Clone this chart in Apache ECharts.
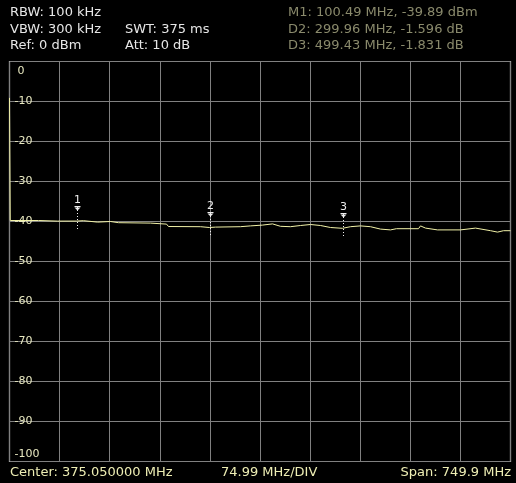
<!DOCTYPE html>
<html>
<head>
<meta charset="utf-8">
<script src="https://cdn.jsdelivr.net/npm/echarts@6/dist/echarts.min.js"></script>
<style>
html,body{margin:0;padding:0;background:#000;}
#c{width:516px;height:483px;}
</style>
</head>
<body>
<div id="c"></div>
<script>
// Trace: frequency (MHz) and level (dBm)
const freqs = [0.1, 1.2, 43.4, 45, 72, 73.4, 100.4, 110.8, 112.4, 131.8, 133.3, 151.3, 152.8, 163.3, 164.8, 211.1, 212.6, 235.1, 238.1, 286, 299.4, 308.4, 345.8, 360.8, 378.8, 393.8, 405.7, 420.7, 435.7, 450.6, 465.6, 480.6, 498.5, 510.5, 525.5, 540.4, 555.4, 570.4, 579.3, 612.3, 615.3, 622.8, 640.7, 675.2, 697.6, 720.1, 730.6, 739.6, 750];
const levels = [-9.1, -39.75, -39.75, -39.9, -39.9, -39.65, -39.89, -39.8, -40.15, -40.15, -40.0, -40.0, -40.25, -40.3, -40.4, -40.4, -40.65, -40.65, -41.25, -41.3, -41.5, -41.4, -41.3, -41.1, -40.9, -40.6, -41.2, -41.3, -41.0, -40.75, -41.0, -41.5, -41.7, -41.3, -41.1, -41.3, -41.9, -42.1, -41.8, -41.8, -41.1, -41.65, -42.1, -42.1, -41.65, -42.3, -42.65, -42.3, -42.3];
// Markers
const markerIds = [1, 2, 3];
const markerFreqs = [100.49, 299.96, 499.43];
const markerLevels = [-39.89, -41.49, -41.72];
// Axis
const yTicks = [0, -10, -20, -30, -40, -50, -60, -70, -80, -90, -100];
const startF = 0.1, stopF = 750.0, divF = 74.99;
// Texts
const infoLeft = ['RBW: 100 kHz', 'VBW: 300 kHz', 'Ref: 0 dBm'];
const infoMid = ['SWT: 375 ms', 'Att: 10 dB'];
const infoRight = ['M1: 100.49 MHz, -39.89 dBm', 'D2: 299.96 MHz, -1.596 dB', 'D3: 499.43 MHz, -1.831 dB'];
const footer = ['Center: 375.050000 MHz', '74.99 MHz/DIV', 'Span: 749.9 MHz'];

const FONT = 'DejaVu Sans';
const chart = echarts.init(document.getElementById('c'), null, {renderer: 'canvas'});

function txt(text, x, y, color, align, size) {
  return {type: 'text', x: x, y: y, silent: true,
    style: {text: text, fill: color, font: (size || 13) + 'px "' + FONT + '"', textAlign: align || 'left', textVerticalAlign: 'middle'}};
}
const graphics = [];
infoLeft.forEach((t, i) => graphics.push(txt(t, 10, 13 + i * 16.5, '#e6e6e6')));
infoMid.forEach((t, i) => graphics.push(txt(t, 125, 29.5 + i * 16.5, '#e6e6e6')));
infoRight.forEach((t, i) => graphics.push(txt(t, 288, 13 + i * 16.5, '#8a8a6c')));
graphics.push(txt(footer[0], 10, 473, '#eeeeb4'));
graphics.push(txt(footer[1], 221, 473, '#eeeeb4'));
graphics.push(txt(footer[2], 511, 473, '#eeeeb4', 'right'));

const yMax = yTicks[0], yMin = yTicks[yTicks.length - 1];
chart.setOption({
  backgroundColor: '#000',
  animation: false,
  graphic: graphics,
  grid: {left: 9.5, top: 61.5, width: 501, height: 400, show: true, borderColor: '#ffffff', borderWidth: 1.2, containLabel: false},
  xAxis: {
    type: 'value', min: startF, max: stopF, interval: divF,
    axisLine: {show: false}, axisTick: {show: false}, axisLabel: {show: false},
    splitLine: {show: true, lineStyle: {color: '#808080', width: 1}}
  },
  yAxis: {
    type: 'value', min: yMin, max: yMax, interval: 10,
    axisLine: {show: false}, axisTick: {show: false},
    axisLabel: {inside: true, margin: 5, color: '#e8e8c0', fontSize: 11, fontFamily: FONT,
      verticalAlignMinLabel: 'bottom', verticalAlignMaxLabel: 'top',
      formatter: v => {
        if (yTicks.indexOf(v) < 0) return '';
        if (v === yMax) return '{t|' + v + '}';
        if (v === yMin) return '{b|' + v + '}';
        return String(v);
      },
      rich: {
        t: {color: '#e8e8c0', fontSize: 11, fontFamily: FONT, padding: [4, 0, 0, 3]},
        b: {color: '#e8e8c0', fontSize: 11, fontFamily: FONT, padding: [0, 0, 2, 0]}
      }
    },
    splitLine: {show: true, lineStyle: {color: '#808080', width: 1}}
  },
  series: [
    {
      type: 'line', data: freqs.map((f, i) => [f, levels[i]]), showSymbol: false,
      lineStyle: {color: '#f2f2a8', width: 1}, z: 3
    },
    {
      type: 'custom', z: 5,
      data: markerFreqs.map((f, i) => [f, markerLevels[i], markerIds[i]]),
      renderItem: function (params, api) {
        const p = api.coord([api.value(0), api.value(1)]);
        const x = Math.round(p[0]) + 0.5;
        const y = Math.round(p[1]);
        const c = '#eeeeee';
        return {type: 'group', children: [
          {type: 'line', shape: {x1: x, y1: y - 14, x2: x, y2: y + 9}, style: {stroke: c, lineWidth: 1, lineDash: [1, 2]}},
          {type: 'line', shape: {x1: x - 3, y1: y - 14.5, x2: x + 3, y2: y - 14.5}, style: {stroke: c, lineWidth: 1}},
          {type: 'polygon', shape: {points: [[x - 3, y - 13.5], [x + 3, y - 13.5], [x, y - 10.5]]}, style: {fill: c}},
          {type: 'text', style: {text: String(api.value(2)), x: x, y: y - 15.5, textAlign: 'center', textVerticalAlign: 'bottom', fill: c, font: '11px "' + FONT + '"'}}
        ]};
      }
    }
  ]
});
</script>
</body>
</html>
